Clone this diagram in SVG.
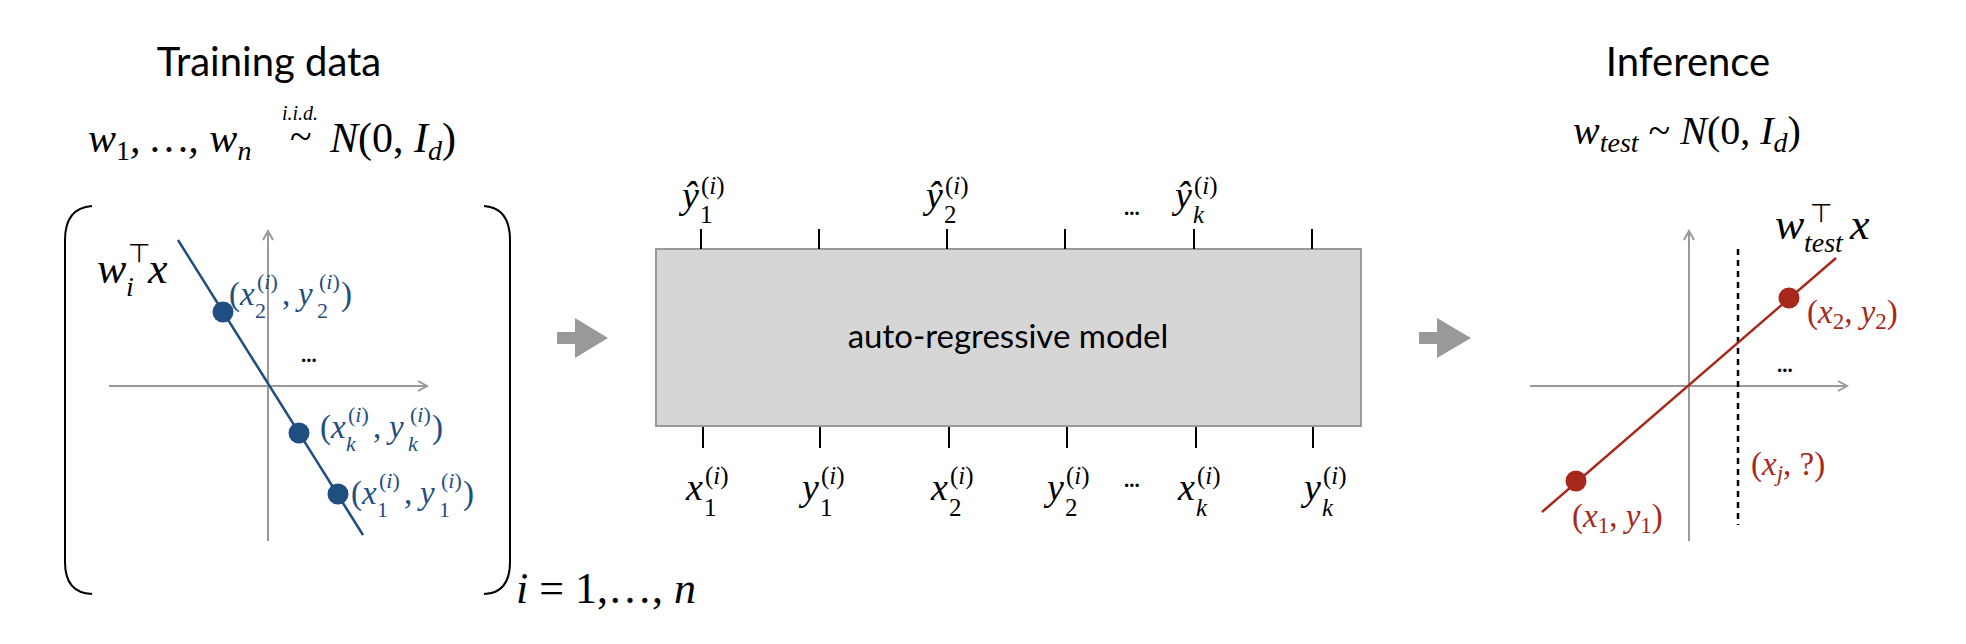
<svg xmlns="http://www.w3.org/2000/svg" width="1966" height="644" viewBox="0 0 1966 644">
<style>
.ttl{font-family:Lato,"Noto Sans",sans-serif;font-size:40px;fill:#000}
.m{font-family:"Liberation Serif","DejaVu Serif",serif;font-style:italic;fill:#000}
.u{font-style:normal}
.b{fill:#1f4e80}
.r{fill:#a8291c}
.ax{stroke:#999;stroke-width:2;fill:none;marker-end:url(#ah)}
.tick{stroke:#000;stroke-width:2}
.dots{font-family:Lato,sans-serif;font-weight:bold;font-size:22px;fill:#000}
.garrow{fill:#999}
</style>
<defs>
<marker id="ah" viewBox="0 0 12 12" refX="10" refY="6" markerWidth="12" markerHeight="12" markerUnits="userSpaceOnUse" orient="auto">
<path d="M1,1 L10,6 L1,11" fill="none" stroke="#999" stroke-width="2"/>
</marker>
</defs>

<g id="training">
<text class="ttl" x="269" y="76" text-anchor="middle">Training data</text>
<text class="m" font-size="42" x="88" y="152">w<tspan class="u" font-size="28" dy="8">1</tspan><tspan dy="-8">, …, w</tspan><tspan font-size="28" dy="8">n</tspan></text>
<text class="m" font-size="20" x="282" y="120">i.i.d.</text>
<text class="m u" font-size="40" x="290" y="150">~</text>
<text class="m" font-size="42" x="330" y="152">N<tspan class="u">(0, </tspan>I<tspan font-size="28" dy="8">d</tspan><tspan class="u" dy="-8">)</tspan></text>
<path d="M92,206 Q65,208 65,240 L65,562 Q65,593 92,594" fill="none" stroke="#000" stroke-width="2"/>
<path d="M484,206 Q510,208 510,240 L510,562 Q510,593 484,594" fill="none" stroke="#000" stroke-width="2"/>
<line class="ax" x1="268" y1="541" x2="268" y2="231"/>
<line class="ax" x1="109" y1="386" x2="427" y2="386"/>
<line x1="178" y1="240" x2="363" y2="535" stroke="#1f4e80" stroke-width="2.5"/>
<circle cx="223" cy="312" r="10.5" fill="#1f4e80"/>
<circle cx="299" cy="433" r="10.5" fill="#1f4e80"/>
<circle cx="338" cy="494" r="10.5" fill="#1f4e80"/>
<text class="m" font-size="44" x="97" y="283">w</text>
<text class="m" font-size="28" x="126" y="296">i</text>
<text font-family="DejaVu Sans,sans-serif" font-size="26" x="128" y="262">⊤</text>
<text class="m" font-size="44" x="148" y="283">x</text>
<text class="dots" x="301" y="362">...</text>
<g id="lbl2">
<text class="m b" font-size="33" x="229" y="305"><tspan class="u">(</tspan>x</text>
<text class="m b" font-size="22" x="257" y="289"><tspan class="u">(</tspan>i<tspan class="u">)</tspan></text>
<text class="m b u" font-size="22" x="255" y="318">2</text>
<text class="m b u" font-size="33" x="282" y="305">,</text>
<text class="m b" font-size="33" x="298" y="305">y</text>
<text class="m b" font-size="22" x="319" y="289"><tspan class="u">(</tspan>i<tspan class="u">)</tspan></text>
<text class="m b u" font-size="22" x="317" y="318">2</text>
<text class="m b u" font-size="33" x="341" y="305">)</text>
</g>
<g id="lblk" transform="translate(91,133)">
<text class="m b" font-size="33" x="229" y="305"><tspan class="u">(</tspan>x</text>
<text class="m b" font-size="22" x="257" y="289"><tspan class="u">(</tspan>i<tspan class="u">)</tspan></text>
<text class="m b" font-size="22" x="255" y="318">k</text>
<text class="m b u" font-size="33" x="282" y="305">,</text>
<text class="m b" font-size="33" x="298" y="305">y</text>
<text class="m b" font-size="22" x="319" y="289"><tspan class="u">(</tspan>i<tspan class="u">)</tspan></text>
<text class="m b" font-size="22" x="317" y="318">k</text>
<text class="m b u" font-size="33" x="341" y="305">)</text>
</g>
<g id="lbl1" transform="translate(122,199)">
<text class="m b" font-size="33" x="229" y="305"><tspan class="u">(</tspan>x</text>
<text class="m b" font-size="22" x="257" y="289"><tspan class="u">(</tspan>i<tspan class="u">)</tspan></text>
<text class="m b u" font-size="22" x="255" y="318">1</text>
<text class="m b u" font-size="33" x="282" y="305">,</text>
<text class="m b" font-size="33" x="298" y="305">y</text>
<text class="m b" font-size="22" x="319" y="289"><tspan class="u">(</tspan>i<tspan class="u">)</tspan></text>
<text class="m b u" font-size="22" x="317" y="318">1</text>
<text class="m b u" font-size="33" x="341" y="305">)</text>
</g>
<text class="m" font-size="44" x="516" y="603">i<tspan class="u"> = 1,…, </tspan>n</text>
</g>

<g id="connectors">
<polygon class="garrow" points="557,332 575,332 575,318 608,338 575,358 575,344 557,344"/>
<polygon class="garrow" points="1419,332 1437,332 1437,318 1471,338 1437,358 1437,344 1419,344"/>
</g>

<g id="model">
<rect x="656" y="249" width="705" height="177" fill="#d6d6d6" stroke="#999" stroke-width="2"/>
<text x="1008" y="348" text-anchor="middle" font-family="Lato,sans-serif" font-size="33" fill="#000">auto-regressive model</text>
<g class="tick">
<line x1="701" y1="229" x2="701" y2="249"/><line x1="819" y1="229" x2="819" y2="249"/>
<line x1="947" y1="229" x2="947" y2="249"/><line x1="1065" y1="229" x2="1065" y2="249"/>
<line x1="1194" y1="229" x2="1194" y2="249"/><line x1="1312" y1="229" x2="1312" y2="249"/>
<line x1="703" y1="427" x2="703" y2="448"/><line x1="820" y1="427" x2="820" y2="448"/>
<line x1="949" y1="427" x2="949" y2="448"/><line x1="1067" y1="427" x2="1067" y2="448"/>
<line x1="1196" y1="427" x2="1196" y2="448"/><line x1="1313" y1="427" x2="1313" y2="448"/>
</g>
<g id="toplabels">
<text class="m" font-size="38" x="682" y="208">ŷ</text><text class="m" font-size="25" x="701" y="194"><tspan class="u">(</tspan>i<tspan class="u">)</tspan></text><text class="m u" font-size="25" x="700" y="223">1</text>
<text class="m" font-size="38" x="926" y="208">ŷ</text><text class="m" font-size="25" x="945" y="194"><tspan class="u">(</tspan>i<tspan class="u">)</tspan></text><text class="m u" font-size="25" x="944" y="223">2</text>
<text class="dots" x="1124" y="215">...</text>
<text class="m" font-size="38" x="1175" y="208">ŷ</text><text class="m" font-size="25" x="1194" y="194"><tspan class="u">(</tspan>i<tspan class="u">)</tspan></text><text class="m" font-size="25" x="1193" y="223">k</text>
</g>
<g id="bottomlabels">
<text class="m" font-size="38" x="686" y="500">x</text><text class="m" font-size="25" x="705" y="484"><tspan class="u">(</tspan>i<tspan class="u">)</tspan></text><text class="m u" font-size="25" x="704" y="516">1</text>
<text class="m" font-size="38" x="802" y="500">y</text><text class="m" font-size="25" x="821" y="484"><tspan class="u">(</tspan>i<tspan class="u">)</tspan></text><text class="m u" font-size="25" x="820" y="516">1</text>
<text class="m" font-size="38" x="931" y="500">x</text><text class="m" font-size="25" x="950" y="484"><tspan class="u">(</tspan>i<tspan class="u">)</tspan></text><text class="m u" font-size="25" x="949" y="516">2</text>
<text class="m" font-size="38" x="1047" y="500">y</text><text class="m" font-size="25" x="1066" y="484"><tspan class="u">(</tspan>i<tspan class="u">)</tspan></text><text class="m u" font-size="25" x="1065" y="516">2</text>
<text class="dots" x="1124" y="487">...</text>
<text class="m" font-size="38" x="1178" y="500">x</text><text class="m" font-size="25" x="1197" y="484"><tspan class="u">(</tspan>i<tspan class="u">)</tspan></text><text class="m" font-size="25" x="1196" y="516">k</text>
<text class="m" font-size="38" x="1304" y="500">y</text><text class="m" font-size="25" x="1323" y="484"><tspan class="u">(</tspan>i<tspan class="u">)</tspan></text><text class="m" font-size="25" x="1322" y="516">k</text>
</g>
</g>

<g id="inference">
<text class="ttl" x="1688" y="76" text-anchor="middle">Inference</text>
<text class="m" font-size="40" x="1573" y="144">w<tspan font-size="28" dy="8">test</tspan><tspan class="u" dy="-8"> ~ </tspan>N<tspan class="u">(0, </tspan>I<tspan font-size="28" dy="8">d</tspan><tspan class="u" dy="-8">)</tspan></text>
<line class="ax" x1="1689" y1="541" x2="1689" y2="231"/>
<line class="ax" x1="1530" y1="386" x2="1847" y2="386"/>
<line x1="1738" y1="249" x2="1738" y2="525" stroke="#000" stroke-width="2.5" stroke-dasharray="6,5"/>
<line x1="1542" y1="512" x2="1836" y2="258" stroke="#a8291c" stroke-width="2.5"/>
<circle cx="1576" cy="481" r="10.5" fill="#a8291c"/>
<circle cx="1789" cy="298" r="10.5" fill="#a8291c"/>
<text class="m" font-size="44" x="1775" y="239">w</text>
<text class="m" font-size="28" x="1804" y="252">test</text>
<text font-family="DejaVu Sans,sans-serif" font-size="26" x="1810" y="222">⊤</text>
<text class="m" font-size="44" x="1850" y="239">x</text>
<text class="dots" x="1777" y="372">...</text>
<text class="m r" font-size="33" x="1807" y="323"><tspan class="u">(</tspan>x<tspan class="u" font-size="23" dy="6">2</tspan><tspan class="u" dy="-6">, </tspan>y<tspan class="u" font-size="23" dy="6">2</tspan><tspan class="u" dy="-6">)</tspan></text>
<text class="m r" font-size="33" x="1751" y="475"><tspan class="u">(</tspan>x<tspan font-size="23" dy="6">j</tspan><tspan class="u" dy="-6">,  ?)</tspan></text>
<text class="m r" font-size="33" x="1572" y="527"><tspan class="u">(</tspan>x<tspan class="u" font-size="23" dy="6">1</tspan><tspan class="u" dy="-6">, </tspan>y<tspan class="u" font-size="23" dy="6">1</tspan><tspan class="u" dy="-6">)</tspan></text>
</g>
</svg>
